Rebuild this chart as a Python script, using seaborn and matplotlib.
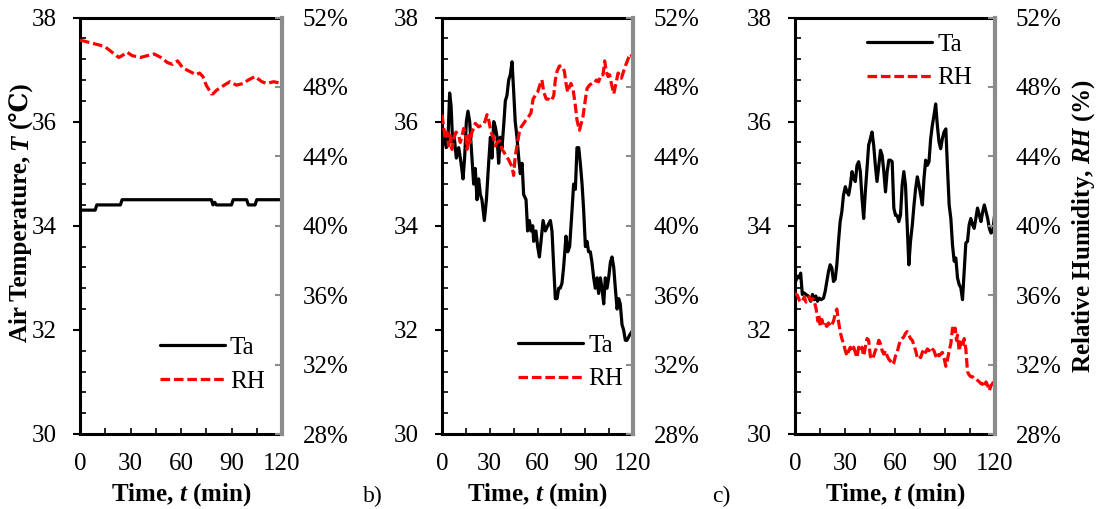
import numpy as np
import seaborn as sns
import matplotlib.pyplot as plt
from matplotlib.ticker import MultipleLocator, FuncFormatter
from matplotlib.lines import Line2D
from matplotlib.transforms import IdentityTransform

# panel a) - nearly constant temperature
t_a_ta = [0, 9, 10, 24, 25, 78, 79, 80, 81, 90, 91, 99, 100, 104, 105, 120]
ta_a = [34.3, 34.3, 34.4, 34.4, 34.5, 34.5, 34.4, 34.45, 34.4, 34.4, 34.5, 34.5, 34.4, 34.4, 34.5, 34.5]
t_a_rh = [0, 4, 8, 12, 15, 19, 23, 25, 28, 31, 36, 40, 44, 48, 52, 55, 58, 61, 65, 69,
          71, 73, 75, 78, 79, 81, 84, 89, 93, 97, 100, 104, 108, 111, 115, 120]
rh_a = [50.7, 50.6, 50.5, 50.4, 50.3, 50.0, 49.7, 49.8, 50.0, 49.8, 49.7, 49.8, 49.9, 49.7,
        49.4, 49.3, 49.5, 49.1, 48.9, 48.7, 48.8, 48.6, 48.1, 47.6, 47.6, 47.8, 48.0, 48.3,
        48.1, 48.2, 48.4, 48.6, 48.3, 48.2, 48.3, 48.2]

# panel b)
t_b_ta = [0, 1.5, 2.7, 3.8, 4.8, 5.7, 6.7, 7.7, 9, 10.5, 12, 13.2, 14.2, 15.3, 16.3, 17.4,
          18.4, 19.9, 20.9, 22, 23, 24.1, 25.1, 26.6, 27.9, 29.3, 30.4, 31.4, 32.5, 33.5,
          34.6, 35.6, 36.6, 37.7, 38.7, 39.8, 40.8, 41.9, 42.9, 44, 45, 46, 47.1, 48.2,
          49.2, 50.3, 51.3, 52.8, 53.8, 54.9, 55.9, 57, 57.6, 59, 60.1, 61.2, 62.2, 63.5,
          64.9, 66.4, 68.1, 69.1, 70.2, 71.2, 72.3, 73.3, 74.3, 75.4, 76.4, 77.9, 79,
          80.2, 81.7, 82.7, 83.8, 84.8, 85.9, 86.9, 88, 89, 90.1, 91.1, 92.1, 93.2, 94.2,
          95.3, 96.3, 97.4, 98.4, 99.5, 100.5, 101.6, 102.6, 103.7, 104.7, 105.8, 106.8,
          107.9, 108.9, 110, 111, 112, 113.1, 114.1, 115.2, 116.2, 117.9, 120]
ta_b = [35.5, 35.7, 35.5, 35.7, 36.55, 36.3, 35.6, 35.7, 35.3, 35.5, 35.2, 34.9, 35.3,
        36.0, 36.2, 36.0, 35.5, 34.8, 35.1, 34.5, 34.9, 34.6, 34.5, 34.1, 34.5, 35.2,
        35.7, 35.3, 36.0, 35.9, 35.7, 35.2, 35.7, 35.5, 35.9, 36.4, 36.5, 36.8, 36.9,
        37.15, 36.6, 36.0, 35.7, 35.3, 35.0, 35.2, 34.6, 34.5, 33.9, 34.1, 33.9, 34.0,
        33.7, 33.9, 33.6, 33.4, 33.7, 34.1, 33.9, 34.0, 34.1, 33.9, 33.2, 32.6, 32.6,
        32.8, 32.8, 32.9, 33.2, 33.8, 33.5, 33.6, 34.3, 34.8, 34.7, 35.5, 35.5, 35.2,
        34.8, 34.3, 33.6, 33.7, 33.5, 33.5, 33.3, 33.0, 32.8, 33.0, 32.7, 33.0, 32.8,
        32.5, 33.0, 32.8, 33.0, 33.3, 33.4, 33.2, 32.8, 32.4, 32.6, 32.5, 32.1, 32.0,
        31.8, 31.8, 31.9, 32.0]
t_b_rh = [0, 1, 2.1, 3.1, 4.2, 5.2, 6.3, 7.3, 8.8, 10.5, 11.5, 12.6, 13.6, 14.7, 15.7,
          16.8, 17.8, 18.8, 19.9, 20.9, 23, 25.1, 26.6, 28.3, 29.3, 30.8, 32.5, 33.5,
          34.6, 36.2, 37.7, 39.2, 40.4, 41.9, 42.9, 44, 45, 46, 47.1, 48.6, 49.8, 51.3,
          52.8, 54.5, 55.9, 57.2, 58.6, 60.1, 61.8, 62.8, 63.9, 65.5, 67, 68.7, 70.2,
          71.2, 72.3, 73.7, 75.4, 76.9, 77.9, 79, 80, 81, 82.3, 83.8, 84.8, 86.3, 87.5,
          88.6, 90.1, 91.1, 92.6, 94.2, 95.7, 97, 98.4, 99.9, 101.2, 102.2, 103.2, 104.3,
          105.3, 106.4, 107.9, 109.3, 110.6, 111.7, 112.7, 114.1, 115.6, 117.3, 118.7, 120]
rh_b = [46.4, 45.7, 45.0, 45.4, 44.6, 45.2, 44.4, 45.0, 45.4, 45.2, 44.8, 45.2, 45.6,
        45.4, 44.4, 45.2, 44.8, 45.4, 45.6, 45.9, 45.7, 45.8, 45.9, 46.4, 46.1, 45.4,
        45.0, 44.6, 44.8, 44.9, 44.4, 44.2, 44.0, 43.8, 43.6, 43.4, 42.9, 44.0, 44.6,
        45.4, 45.7, 45.9, 46.1, 46.3, 46.5, 47.3, 47.5, 47.7, 48.2, 48.4, 47.7, 47.3,
        47.3, 47.2, 47.5, 48.4, 48.9, 49.2, 49.2, 48.9, 48.2, 47.7, 48.0, 48.2, 47.9,
        46.9, 46.1, 45.5, 45.9, 46.3, 47.3, 47.9, 48.1, 48.2, 48.2, 48.4, 48.3, 48.7,
        48.7, 49.5, 48.9, 48.6, 48.7, 48.2, 47.6, 48.2, 48.8, 48.7, 48.5, 48.9, 49.3,
        49.7, 49.9, 49.6]

# panel c)
t_c = [0.4, 1.4, 2.4, 3.4, 4.4, 5.4, 6.6, 8, 9.4, 10.5, 11.5, 12.5, 13.5, 14.5, 15.7,
       17.1, 18.1, 19.1, 20.1, 21.1, 22.1, 23.1, 24.1, 25.1, 26.1, 27.1, 28.1, 29.1,
       30.2, 31.2, 32.2, 33.2, 34.2, 35.2, 36.2, 37.2, 38.2, 39.2, 40.2, 41.2, 42.2,
       43.2, 44.2, 45.2, 46.2, 47.2, 48.2, 49.2, 50.3, 51.3, 52.3, 53.3, 54.3, 55.3,
       56.3, 57.3, 58.3, 59.3, 60.3, 61.3, 62.3, 63.3, 64.3, 65.3, 66.3, 67.3, 68.3,
       69.3, 70.4, 71.4, 72.4, 73.4, 74.4, 75.4, 76.4, 77.4, 78.4, 79.4, 80.4, 81.4,
       82.4, 83.4, 84.4, 85.4, 86.4, 87.4, 88.4, 89.4, 90.5, 91.5, 92.5, 93.5, 94.5,
       95.5, 96.5, 97.5, 98.5, 99.5, 100.5, 101.5, 102.5, 103.5, 104.5, 105.5, 106.5,
       107.5, 108.5, 109.5, 110.6, 111.6, 112.6, 113.6, 114.6, 115.6, 116.6, 117.6,
       118.6, 120]
ta_c = [32.93, 33.03, 33.0, 33.09, 32.68, 32.71, 32.68, 32.65, 32.55, 32.68, 32.58,
        32.65, 32.55, 32.61, 32.58, 32.61, 32.74, 32.93, 33.12, 33.25, 33.19, 32.93,
        32.97, 33.25, 33.7, 34.08, 34.27, 34.59, 34.75, 34.65, 34.59, 34.78, 35.04,
        34.91, 34.85, 35.16, 35.23, 35.04, 34.53, 34.14, 34.65, 35.1, 35.55, 35.67,
        35.8, 35.55, 35.16, 34.85, 35.16, 35.45, 35.35, 35.04, 34.65, 35.04, 35.26,
        35.26, 35.23, 34.34, 34.2, 34.2, 34.08, 34.2, 34.78, 35.04, 34.78, 34.02, 33.25,
        33.7, 34.02, 34.4, 34.72, 34.94, 34.78, 34.59, 34.4, 34.91, 35.26, 35.16, 35.23,
        35.67, 35.93, 36.12, 36.34, 35.93, 35.61, 35.48, 35.67, 35.8, 35.86, 35.1, 34.4,
        34.14, 33.63, 33.32, 33.38, 33.0, 32.87, 32.81, 32.58, 33.12, 33.67, 33.7, 34.02,
        34.14, 34.02, 33.95, 34.14, 34.34, 34.2, 34.08, 34.27, 34.4, 34.27, 34.14, 33.95,
        33.86, 33.89, 34.27]
t_c_rh = [0, 1.4, 2.6, 3.6, 4.6, 5.6, 6.6, 7.6, 8.6, 9.6, 10.7, 11.7, 12.7, 13.7, 14.3,
          15.1, 16.1, 17.1, 18.1, 19.1, 20.1, 21.1, 22.1, 23.1, 24.1, 25.1, 26.1, 27.1,
          28.1, 29.1, 30.2, 31.2, 32.2, 33.2, 34.2, 35.2, 36.2, 37.2, 38.2, 39.2, 40.2,
          41.2, 42.2, 43.2, 44.2, 45.2, 46.2, 47.2, 48.2, 49.2, 50.3, 51.3, 52.3, 53.3,
          54.3, 55.3, 56.3, 57.3, 58.3, 59.3, 60.3, 61.3, 62.3, 63.3, 64.3, 65.3, 66.3,
          67.3, 68.3, 69.3, 70.4, 71.4, 72.4, 73.4, 74.4, 75.4, 76.4, 77.4, 78.4, 79.4,
          80.4, 81.4, 82.4, 83.4, 84.4, 85.4, 86.4, 87.4, 88.4, 89.4, 90.5, 91.5, 92.5,
          93.5, 94.5, 95.5, 96.1, 96.9, 97.5, 98.5, 99.5, 100.5, 101.5, 102.5, 103.5,
          104.5, 105.5, 106.5, 107.5, 108.5, 109.5, 110.6, 111.6, 112.6, 113.6, 114.6,
          115.6, 116.6, 117.6, 118.6, 120]
rh_c = [36.1, 36.0, 35.7, 35.6, 35.7, 35.9, 35.6, 35.8, 35.9, 35.7, 35.8, 35.6, 35.2,
        34.5, 34.9, 34.2, 34.6, 34.2, 34.3, 34.2, 34.4, 34.2, 34.3, 34.5, 34.9, 35.2,
        34.5, 33.9, 33.5, 33.2, 32.8, 32.5, 32.8, 33.0, 32.8, 33.0, 32.7, 32.4, 33.0,
        32.8, 33.0, 32.5, 33.0, 33.5, 33.4, 32.5, 32.3, 32.5, 32.8, 33.0, 33.4, 33.2,
        32.8, 32.6, 32.8, 32.5, 32.3, 32.2, 32.0, 32.1, 32.5, 32.7, 33.1, 33.4, 33.5,
        33.6, 33.8, 33.9, 33.7, 33.5, 33.4, 33.1, 32.8, 32.4, 32.5, 32.4, 32.7, 32.9,
        32.7, 32.9, 32.8, 33.0, 32.9, 32.8, 32.5, 32.7, 32.5, 32.6, 32.7, 32.4, 31.9,
        32.3, 32.8, 33.2, 34.1, 33.8, 34.1, 33.4, 33.7, 32.8, 33.3, 33.0, 33.5, 32.9,
        31.6, 31.4, 31.3, 31.3, 31.2, 31.2, 31.1, 31.0, 30.9, 30.9, 30.7, 31.0, 30.8,
        30.5, 30.8, 30.9, 31.3]

panels = [
    (t_a_ta, ta_a, t_a_rh, rh_a),
    (t_b_ta, ta_b, t_b_rh, rh_b),
    (t_c, ta_c, t_c_rh, rh_c),
]
x_ticks = [0, 30, 60, 90, 120]
t_ticks = [30, 32, 34, 36, 38]
rh_ticks = [28, 32, 36, 40, 44, 48, 52]

sns.set_style("ticks", rc={"axes.edgecolor": "black", "text.color": "black",
                           "xtick.color": "black", "ytick.color": "black",
                           "axes.labelcolor": "black"})
plt.rcParams['font.family'] = ['Liberation Serif', 'DejaVu Serif']
plt.rcParams['mathtext.fontset'] = 'custom'
plt.rcParams['mathtext.rm'] = 'Liberation Serif:bold'
plt.rcParams['mathtext.it'] = 'Liberation Serif:italic'
plt.rcParams['mathtext.bf'] = 'Liberation Serif:bold'
plt.rcParams['mathtext.bfit'] = 'Liberation Serif:italic:bold'

GRAY = '#8c8c8c'
FS = 18

fig = plt.figure(figsize=(10.96, 5.09), dpi=100)
boxes = [(80, 202), (442, 191), (795, 200)]
leg_pos = [(0.396, 0.166), (0.398, 0.172), (0.36, 0.895)]

for i, (tt, ta, tr, rh) in enumerate(panels):
    left, width = boxes[i]
    ax = fig.add_axes([left / 1096, 1 - 434 / 509, width / 1096, 416.5 / 509])
    tw = ax.twinx()

    sns.lineplot(x=tt, y=ta, ax=ax, color='black', lw=2.3, estimator=None, sort=False)
    sns.lineplot(x=tr, y=rh, ax=tw, color='#ff0000', lw=2.3, estimator=None, sort=False,
                 linestyle=(0, (3, 1.2)))

    ax.set_xlim(0, 120)
    ax.set_ylim(30, 38)
    tw.set_ylim(28, 52)
    ax.set_xticks(x_ticks)
    ax.xaxis.set_minor_locator(MultipleLocator(15))
    ax.set_yticks(t_ticks)
    ax.yaxis.set_minor_locator(MultipleLocator(0.4))
    tw.set_yticks(rh_ticks)
    tw.yaxis.set_major_formatter(FuncFormatter(lambda v, p: f"{v:.0f}%"))

    ax.tick_params(axis='y', which='major', direction='out', length=5, width=1.5,
                   pad=12, labelsize=FS)
    ax.tick_params(axis='y', which='minor', direction='in', length=4, width=1.2)
    ax.tick_params(axis='x', which='both', direction='in', length=4, width=1.2,
                   pad=14, labelsize=FS)
    tw.tick_params(axis='y', which='major', direction='in', length=5, width=1.5,
                   color=GRAY, pad=15, labelsize=FS)

    for s in ['left', 'top', 'bottom']:
        ax.spines[s].set_linewidth(2.2)
        ax.spines[s].set_color('black')
        tw.spines[s].set_visible(False)
    ax.spines['right'].set_visible(False)
    tw.spines['right'].set_color(GRAY)
    tw.spines['right'].set_linewidth(3)

    ax.set_xlabel("Time, $\\mathbfit{t}$ (min)", fontsize=FS, fontweight='bold', labelpad=4)
    ax.set_ylabel("")
    if i == 2:
        tw.set_ylabel("Relative Humidity, $\\mathbfit{RH}$ (%)", fontsize=FS,
                      fontweight='bold', labelpad=6)
    else:
        tw.set_ylabel("")

    handles = [Line2D([], [], color='black', lw=2.3),
               Line2D([], [], color='#ff0000', lw=2.3, linestyle=(0, (3, 1.2)))]
    tw.legend(handles, ['Ta', 'RH'], loc='center left', bbox_to_anchor=leg_pos[i],
              frameon=False, fontsize=FS, handlelength=2.6, handletextpad=0.2,
              borderpad=0, borderaxespad=0, labelspacing=0.45)

# left axis title built from pieces (italic T, and the ℃ sign needs a fallback font)
renderer = fig.canvas.get_renderer()
parts = [("Air Temperature,", {}), ("T", {"style": "italic"}), ("(℃)", {})]
pieces = []
for s, kw in parts:
    t = fig.text(0, 0, s, transform=IdentityTransform(), rotation=90,
                 rotation_mode='anchor', ha='left', va='baseline', fontsize=FS,
                 fontweight='bold', **kw)
    pieces.append(t)
lengths = [p.get_window_extent(renderer).height for p in pieces]
gap = 0.25 * FS * fig.dpi / 72
y0 = (509 - 212) - (sum(lengths) + gap * (len(pieces) - 1)) / 2
for p, L in zip(pieces, lengths):
    p.set_position((27, y0))
    y0 += L + gap

fig.text(363 / 1096, 1 - 486 / 509, "b)", fontsize=17, va='top', ha='left')
fig.text(712 / 1096, 1 - 486 / 509, "c)", fontsize=17, va='top', ha='left')

fig.savefig('out.png', dpi=100)
